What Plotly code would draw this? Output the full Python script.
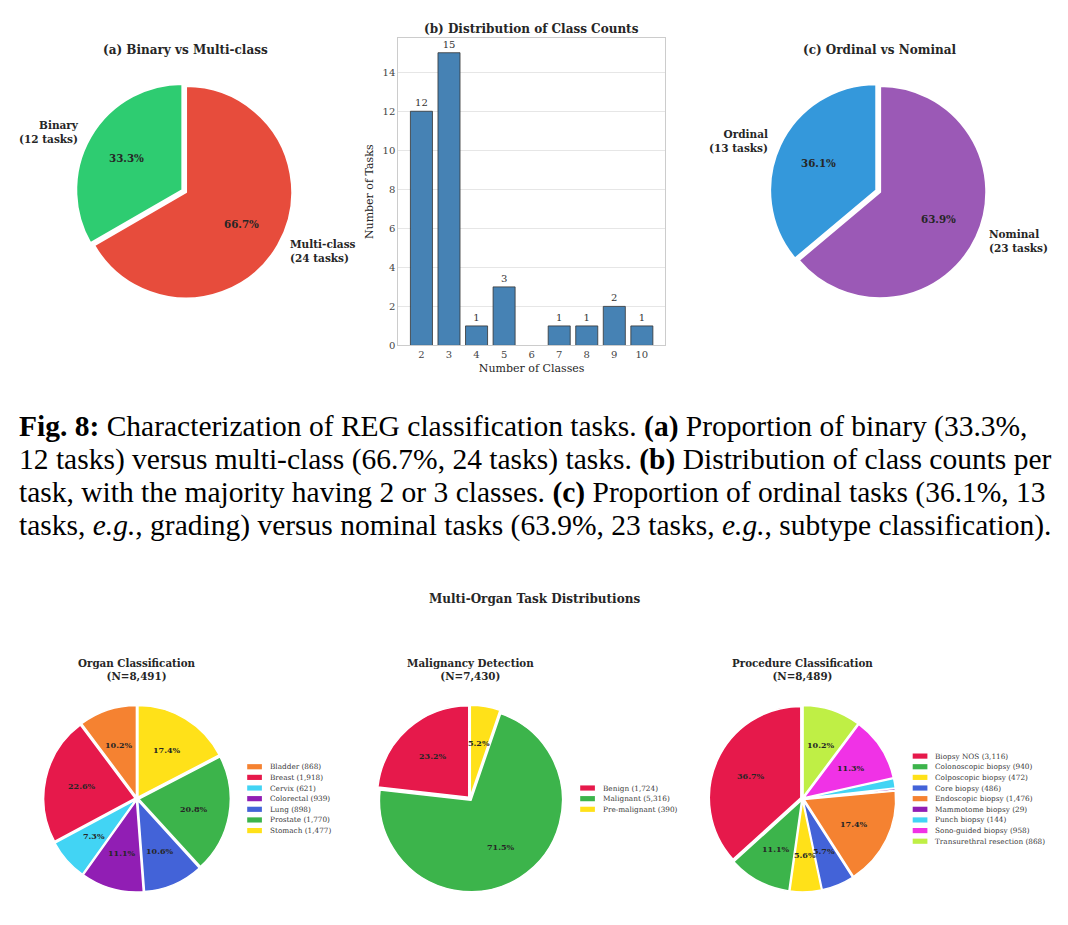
import math
import plotly.graph_objects as go

# ---------------- data ----------------
task_type_labels = ["Binary", "Multi-class"]
task_type_counts = [12, 24]
task_type_colors = ["#2ecc71", "#e74c3c"]

class_numbers = [2, 3, 4, 5, 7, 8, 9, 10]
class_task_counts = [12, 15, 1, 3, 1, 1, 2, 1]
class_ticks = [2, 3, 4, 5, 6, 7, 8, 9, 10]

scale_labels = ["Ordinal", "Nominal"]
scale_counts = [13, 23]
scale_colors = ["#3498db", "#9b59b6"]

organ_labels = ["Bladder", "Breast", "Cervix", "Colorectal", "Lung", "Prostate", "Stomach"]
organ_counts = [868, 1918, 621, 939, 898, 1770, 1477]
organ_colors = ["#f58231", "#e6194b", "#42d4f4", "#911eb4", "#4363d8", "#3cb44b", "#ffe119"]

malig_labels = ["Benign", "Malignant", "Pre-malignant"]
malig_counts = [1724, 5316, 390]
malig_colors = ["#e6194b", "#3cb44b", "#ffe119"]

proc_labels = ["Biopsy NOS", "Colonoscopic biopsy", "Colposcopic biopsy", "Core biopsy",
               "Endoscopic biopsy", "Mammotome biopsy", "Punch biopsy", "Sono-guided biopsy",
               "Transurethral resection"]
proc_counts = [3116, 940, 472, 486, 1476, 29, 144, 958, 868]
proc_colors = ["#e6194b", "#3cb44b", "#ffe119", "#4363d8", "#f58231", "#911eb4", "#42d4f4",
               "#f032e6", "#bfef45"]

caption_lines = [
    "<b>Fig. 8:</b> Characterization of REG classification tasks. <b>(a)</b> Proportion of binary (33.3%,",
    "12 tasks) versus multi-class (66.7%, 24 tasks) tasks. <b>(b)</b> Distribution of class counts per",
    "task, with the majority having 2 or 3 classes. <b>(c)</b> Proportion of ordinal tasks (36.1%, 13",
    "tasks, <i>e.g.</i>, grading) versus nominal tasks (63.9%, 23 tasks, <i>e.g.</i>, subtype classification).",
]

# ---------------- layout helpers ----------------
W, H = 1068, 925
FONT = "DejaVu Serif"
TXT = "#262626"


def fx(x):
    return x / W


def fy(y):
    return 1 - y / H


fig = go.Figure()
annotations = []
shapes = []


def ann(x, y, text, size, xanchor="center", yanchor="middle", align="center",
        color=TXT, family=FONT):
    annotations.append(dict(x=fx(x), y=fy(y), xref="paper", yref="paper", text=text,
                            showarrow=False, xanchor=xanchor, yanchor=yanchor, align=align,
                            font=dict(family=family, size=size, color=color)))


def add_pie(labels, values, colors, cx, cy, r, pull, line_w, pct_size, pct_min=0.0,
            outer_labels=None, label_size=10.5):
    p = [pull] * len(values)
    h = r * (1 + pull)
    total = sum(values)
    # plotly's counterclockwise pies end the first slice at `rotation`;
    # shift so the first slice starts at 12 o'clock (matplotlib startangle=90)
    rot = -360.0 * values[0] / total
    fig.add_trace(go.Pie(
        labels=labels, values=values, sort=False, direction="counterclockwise", rotation=rot,
        pull=p, textinfo="none", showlegend=False,
        marker=dict(colors=colors, line=dict(color="white", width=line_w)),
        domain=dict(x=[fx(cx - h), fx(cx + h)], y=[fy(cy + h), fy(cy - h)]),
    ))
    cum = 0.0
    for i, v in enumerate(values):
        frac = v / total
        th = math.radians(90 + 360 * (cum + frac / 2))
        cum += frac
        ex = cx + pull * r * math.cos(th)
        ey = cy - pull * r * math.sin(th)
        pct = frac * 100
        if pct > pct_min:
            ann(ex + 0.6 * r * math.cos(th), ey - 0.6 * r * math.sin(th),
                "<b>%.1f%%</b>" % pct, pct_size)
        if outer_labels is not None:
            lx = ex + 1.1 * r * math.cos(th)
            ly = ey - 1.1 * r * math.sin(th)
            side = "left" if math.cos(th) > 0 else "right"
            ann(lx, ly, "<b>" + outer_labels[i] + "</b>", label_size,
                xanchor=side, align=side)


def add_legend(labels, values, colors, left, cy, step=10.7, sw=14.7, sh=5.2, size=7.3):
    n = len(labels)
    for i, (lab, v, c) in enumerate(zip(labels, values, colors)):
        y = cy + (i - (n - 1) / 2) * step
        shapes.append(dict(type="rect", xref="paper", yref="paper",
                           x0=fx(left), x1=fx(left + sw), y0=fy(y + sh / 2), y1=fy(y - sh / 2),
                           fillcolor=c, line=dict(width=0)))
        ann(left + sw + 6, y, "%s (%s)" % (lab, format(v, ",")), size, xanchor="left",
            color="#3a3a3a")


# ---------------- (a) ----------------
add_pie(task_type_labels, task_type_counts, task_type_colors, 184.2, 192.2, 106.7, 0.02, 2, 10.3,
        outer_labels=["%s<br>(%d tasks)" % (l, c) for l, c in zip(task_type_labels, task_type_counts)])
ann(185, 50, "<b>(a) Binary vs Multi-class</b>", 12)

# ---------------- (c) ----------------
add_pie(scale_labels, scale_counts, scale_colors, 878.2, 192.2, 106.7, 0.02, 2, 10.3,
        outer_labels=["%s<br>(%d tasks)" % (l, c) for l, c in zip(scale_labels, scale_counts)])
ann(879, 50, "<b>(c) Ordinal vs Nominal</b>", 12)

# ---------------- (b) ----------------
fig.add_trace(go.Bar(
    x=class_numbers, y=class_task_counts, width=0.8, showlegend=False,
    marker=dict(color="#4682b4", line=dict(color="#333333", width=0.8)),
    text=class_task_counts, textposition="outside", cliponaxis=False,
    textfont=dict(family=FONT, size=10, color="#333333"),
    xaxis="x", yaxis="y",
))
ann(531.7, 29, "<b>(b) Distribution of Class Counts</b>", 12)

# ---------------- bottom row ----------------
ann(534, 602, "<b>Multi-Organ Task Distributions</b>", 12)

bottom = [
    ("Organ Classification", organ_labels, organ_counts, organ_colors, 137.0),
    ("Malignancy Detection", malig_labels, malig_counts, malig_colors, 470.0),
    ("Procedure Classification", proc_labels, proc_counts, proc_colors, 802.5),
]
R_B = 92.0
CY_B = 803.0
for title, labs, vals, cols, cx in bottom:
    add_pie(labs, vals, cols, cx, CY_B, R_B, 0.02, 1.5, 8, pct_min=5.0)
    ann(cx, 673, "<b>%s<br>(N=%s)</b>" % (title, format(sum(vals), ",")), 10.3)
    add_legend(labs, vals, cols, cx + R_B + 18.2, CY_B)

# ---------------- caption ----------------
for i, line in enumerate(caption_lines):
    ann(17, 429 + i * 33, line, 29.5, xanchor="left", color="#000000", family="Liberation Serif")

fig.update_layout(
    width=W, height=H, autosize=False,
    margin=dict(l=0, r=0, t=0, b=0),
    paper_bgcolor="white", plot_bgcolor="white",
    font=dict(family=FONT, color=TXT),
    annotations=annotations, shapes=shapes,
    xaxis=dict(domain=[fx(398.3), fx(665)], range=[1.16, 10.84], tickvals=class_ticks,
               showgrid=False, zeroline=False, showline=True, mirror=True,
               linecolor="#cccccc", linewidth=1, ticks="",
               tickfont=dict(family=FONT, size=10, color="#444444"),
               title=dict(text="Number of Classes", font=dict(family=FONT, size=11, color=TXT),
                          standoff=4)),
    yaxis=dict(domain=[fy(347.3), fy(38.3)], range=[0, 15.75], dtick=2,
               showgrid=True, gridcolor="#e6e6e6", gridwidth=1, zeroline=False,
               showline=True, mirror=True, linecolor="#cccccc", linewidth=1, ticks="",
               tickfont=dict(family=FONT, size=10, color="#444444"),
               title=dict(text="Number of Tasks", font=dict(family=FONT, size=11, color=TXT),
                          standoff=6)),
)

fig.write_html("out.html")
